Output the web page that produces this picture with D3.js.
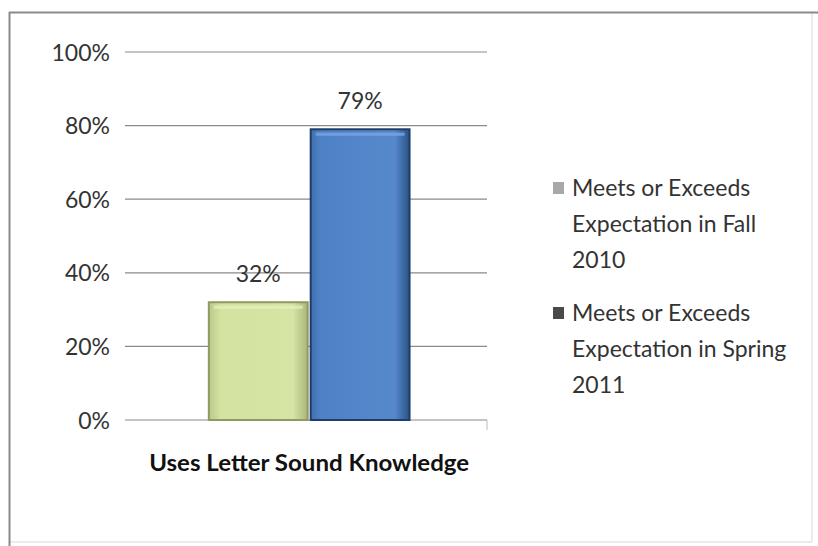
<!DOCTYPE html>
<html><head><meta charset="utf-8">
<script src="https://cdn.jsdelivr.net/npm/d3@7"></script>
<style>
html,body{margin:0;padding:0;background:#fff;}
text{font-family:Lato,"Open Sans",sans-serif;}
</style></head>
<body>
<svg id="c" width="818" height="546"></svg>
<script>
const categories = ["Uses Letter Sound Knowledge"];
const seriesNames = ["Meets or Exceeds Expectation in Fall 2010", "Meets or Exceeds Expectation in Spring 2011"];
const fall2010 = [0.32];
const spring2011 = [0.79];
const yTicks = [0, 0.2, 0.4, 0.6, 0.8, 1.0];
const legendLines = [["Meets or Exceeds", "Expectation in Fall", "2010"], ["Meets or Exceeds", "Expectation in Spring", "2011"]];

const svg = d3.select("#c");
const defs = svg.append("defs");
const gGreen = defs.append("linearGradient").attr("id","gGreen").attr("x1","0").attr("x2","1").attr("y1","0").attr("y2","0");
gGreen.append("stop").attr("offset","0").attr("stop-color","#b9c98a");
gGreen.append("stop").attr("offset","0.12").attr("stop-color","#d4e3a0");
gGreen.append("stop").attr("offset","0.85").attr("stop-color","#d6e4a4");
gGreen.append("stop").attr("offset","1").attr("stop-color","#a9b879");
const gBlue = defs.append("linearGradient").attr("id","gBlue").attr("x1","0").attr("x2","1").attr("y1","0").attr("y2","0");
gBlue.append("stop").attr("offset","0").attr("stop-color","#3f6fae");
gBlue.append("stop").attr("offset","0.1").attr("stop-color","#4e82c6");
gBlue.append("stop").attr("offset","0.85").attr("stop-color","#5689cc");
gBlue.append("stop").attr("offset","1").attr("stop-color","#2c5288");

// frame
svg.append("line").attr("x1",812).attr("x2",812).attr("y1",12).attr("y2",542).attr("stroke","#e6e6e6").attr("stroke-width",1.5);
svg.append("line").attr("x1",9).attr("x2",812).attr("y1",542).attr("y2",542).attr("stroke","#e6e6e6").attr("stroke-width",1.5);
svg.append("line").attr("x1",9).attr("x2",818).attr("y1",12.5).attr("y2",12.5).attr("stroke","#8a8a8a").attr("stroke-width",2);
svg.append("line").attr("x1",9.5).attr("x2",9.5).attr("y1",12).attr("y2",546).attr("stroke","#8a8a8a").attr("stroke-width",2);

const pLeft = 125, pRight = 487, pTop = 52, pBottom = 420;
const y = d3.scaleLinear().domain([0,1]).range([pBottom, pTop]);
const x0 = d3.scaleBand().domain(categories).range([pLeft, pRight]).paddingInner(0.44).paddingOuter(0.22).align(0.52);
const x1 = d3.scaleBand().domain(seriesNames).range([0, x0.bandwidth()]).paddingInner(0.01);

const yAxis = d3.axisLeft(y).tickValues(yTicks).tickFormat(d3.format(".0%")).tickSize(0).tickPadding(15);
const ga = svg.append("g").attr("transform",`translate(${pLeft},0)`).call(yAxis);
ga.select(".domain").remove();
ga.selectAll("text").attr("font-size",23).attr("fill","#333").attr("dy","0.35em").attr("font-family","Lato, sans-serif");
svg.append("g").selectAll("line").data(yTicks).join("line")
  .attr("x1",pLeft).attr("x2",pRight).attr("y1",d=>y(d)).attr("y2",d=>y(d))
  .attr("stroke","#8a8a8a").attr("stroke-width",1.2);
svg.append("line").attr("x1",pRight).attr("x2",pRight).attr("y1",y(0)).attr("y2",y(0)+10).attr("stroke","#bbb");

const data = categories.map((c,i)=>({c, vals:[{s:seriesNames[0], v:fall2010[i], fill:"url(#gGreen)", stroke:"#8f9a62"},{s:seriesNames[1], v:spring2011[i], fill:"url(#gBlue)", stroke:"#1f3d66"}]}));
const grp = svg.append("g").selectAll("g").data(data).join("g").attr("transform",d=>`translate(${x0(d.c)},0)`);
grp.selectAll("rect").data(d=>d.vals).join("rect")
  .attr("x",d=>x1(d.s)+1).attr("width",x1.bandwidth()-2)
  .attr("y",d=>y(d.v)).attr("height",d=>y(0)-y(d.v))
  .attr("fill",d=>d.fill).attr("stroke",d=>d.stroke).attr("stroke-width",2);
grp.selectAll("line.hl").data(d=>d.vals).join("line").attr("class","hl")
  .attr("x1",d=>x1(d.s)+6).attr("x2",d=>x1(d.s)+x1.bandwidth()-6)
  .attr("y1",d=>y(d.v)+5).attr("y2",d=>y(d.v)+5)
  .attr("stroke",(d,i)=>i===0?"#e6efc0":"#7aa6e0").attr("stroke-width",3).attr("opacity",0.8);
grp.selectAll("text").data(d=>d.vals).join("text")
  .attr("x",d=>x1(d.s)+x1.bandwidth()/2).attr("y",d=>y(d.v)-20)
  .attr("text-anchor","middle").attr("font-size",23).attr("fill","#333")
  .text(d=>d3.format(".0%")(d.v));

svg.append("g").selectAll("text").data(categories).join("text")
  .attr("x",d=>x0(d)+x0.bandwidth()/2).attr("y",471)
  .attr("text-anchor","middle").attr("font-size",23).attr("font-weight","bold").attr("fill","#111")
  .attr("textLength",320).attr("lengthAdjust","spacingAndGlyphs")
  .text(d=>d);

const lg = svg.append("g").selectAll("g").data(seriesNames).join("g")
  .attr("transform",(d,i)=>`translate(553,${188+i*125})`);
lg.append("rect").attr("x",0).attr("y",-6).attr("width",11).attr("height",12)
  .attr("fill",(d,i)=>i===0?"#a8a8a8":"#4a4a4a");
lg.each(function(d,i){
  const g=d3.select(this);
  legendLines[i].forEach((t,j)=>{
    g.append("text").attr("x",19).attr("y",j*36).attr("dy","0.35em")
      .attr("font-size",23).attr("fill","#333").text(t);
  });
});
</script>
</body></html>
